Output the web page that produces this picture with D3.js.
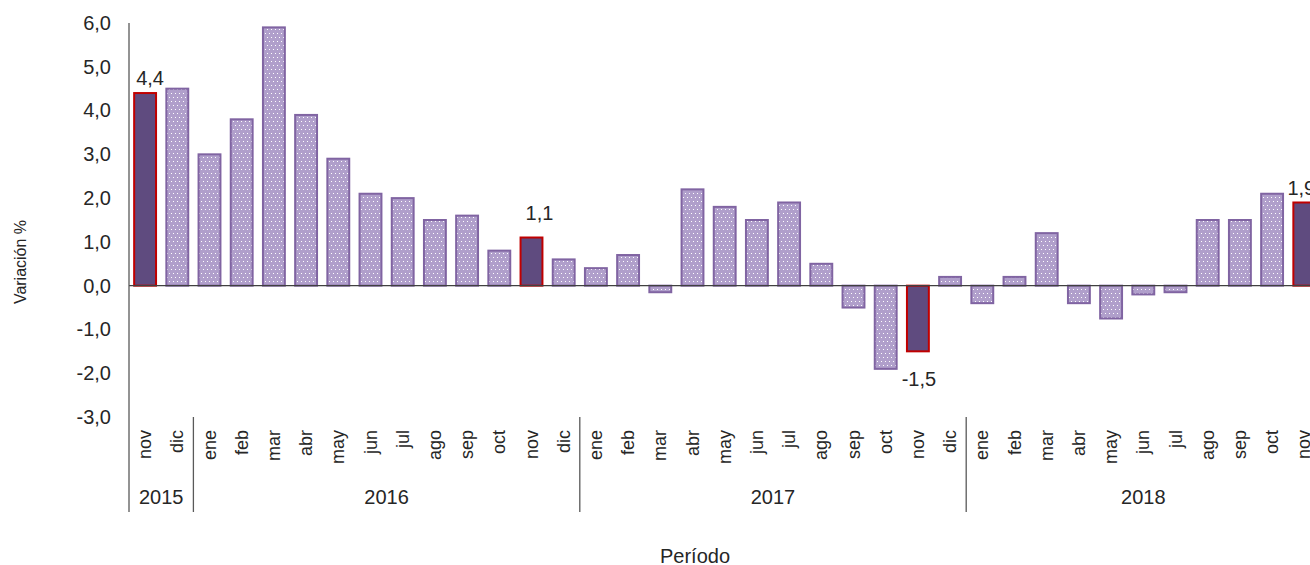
<!DOCTYPE html>
<html><head><meta charset="utf-8">
<script src="https://cdn.jsdelivr.net/npm/d3@7"></script>
<style>body{margin:0;background:#fff;overflow:hidden}svg{display:block}text{font-family:"Liberation Sans",Arial,sans-serif;fill:#262626}</style>
</head><body>
<svg id="c" width="1310" height="565"></svg>
<script>
const years = ["2015","2016","2017","2018"];
const months = [
  ["nov","dic"],
  ["ene","feb","mar","abr","may","jun","jul","ago","sep","oct","nov","dic"],
  ["ene","feb","mar","abr","may","jun","jul","ago","sep","oct","nov","dic"],
  ["ene","feb","mar","abr","may","jun","jul","ago","sep","oct","nov"]
];
const values = [
  4.4, 4.5,
  3.0, 3.8, 5.9, 3.9, 2.9, 2.1, 2.0, 1.5, 1.6, 0.8, 1.1, 0.6,
  0.4, 0.7, -0.15, 2.2, 1.8, 1.5, 1.9, 0.5, -0.5, -1.9, -1.5, 0.2,
  -0.4, 0.2, 1.2, -0.4, -0.75, -0.2, -0.15, 1.5, 1.5, 2.1, 1.9
];
const highlighted = ["2015-nov","2016-nov","2017-nov","2018-nov"];
const yTicks = [-3,-2,-1,0,1,2,3,4,5,6];

const cats = [];
years.forEach((y,i)=>months[i].forEach(m=>cats.push({key:y+"-"+m, year:y, month:m})));
cats.forEach((c,i)=>c.value=values[i]);

const svg = d3.select("#c");
const fmt = v => d3.format(".1f")(v).replace(".",",").replace("−","-");
const x0 = 129, step = 32.2;
const x = d3.scaleBand().domain(cats.map(c=>c.key)).range([x0, x0+step*cats.length]).paddingInner(0.32).paddingOuter(0.16);
const y = d3.scaleLinear().domain([-3,6]).range([417,23]);

const defs = svg.append("defs");
const pat = defs.append("pattern").attr("id","dots").attr("patternUnits","userSpaceOnUse").attr("width",8).attr("height",8);
pat.append("rect").attr("width",8).attr("height",8).attr("fill","#b09fcb");
[[1,1],[5,1],[3,5],[7,5]].forEach(p=>pat.append("rect").attr("x",p[0]).attr("y",p[1]).attr("width",1).attr("height",1).attr("fill","#ffffff"));

// y axis labels
const ya = svg.append("g").attr("transform",`translate(${x0},0)`)
  .call(d3.axisLeft(y).tickValues(yTicks).tickFormat(fmt).tickSize(0).tickPadding(18));
ya.select(".domain").remove();
ya.selectAll("text").style("font-size","20px").style("font-family","'Liberation Sans',Arial,sans-serif").attr("fill","#262626");

// bars
const isH = c => highlighted.includes(c.key);
svg.append("g").selectAll("rect").data(cats).join("rect")
  .attr("x",d=>x(d.key)).attr("width",x.bandwidth())
  .attr("y",d=>y(Math.max(0,d.value))).attr("height",d=>Math.abs(y(d.value)-y(0)))
  .attr("fill",d=>isH(d)?"#5f4b7f":"url(#dots)")
  .attr("stroke",d=>isH(d)?"#c00000":"#8064a2").attr("stroke-width",2);

// zero line and vertical axis
svg.append("line").attr("x1",x0).attr("x2",1310).attr("y1",y(0)).attr("y2",y(0)).attr("stroke","#404040").attr("stroke-width",1.3);
svg.append("line").attr("x1",x0).attr("x2",x0).attr("y1",y(6)).attr("y2",512).attr("stroke","#595959").attr("stroke-width",1.3);

// data labels
const labelOff = {"2015-nov":[5,-8],"2016-nov":[8,-18],"2017-nov":[1,35],"2018-nov":[-3,-7]};
svg.append("g").selectAll("text").data(cats.filter(isH)).join("text")
  .attr("x",d=>x(d.key)+x.bandwidth()/2+labelOff[d.key][0])
  .attr("y",d=>y(d.value)+labelOff[d.key][1])
  .attr("text-anchor","middle").style("font-size","20px").text(d=>fmt(d.value));

// month tick labels
svg.append("g").selectAll("text").data(cats).join("text")
  .attr("transform",d=>`translate(${x(d.key)+x.bandwidth()/2+6},430) rotate(-90)`)
  .attr("text-anchor","end").style("font-size","18px").text(d=>d.month);

// year separators & labels
let idx = 0;
years.forEach((yr,i)=>{
  const start = idx, end = idx + months[i].length; idx = end;
  const xs = x0 + step*start, xe = x0 + step*end;
  if(i>0) svg.append("line").attr("x1",xs).attr("x2",xs).attr("y1",417).attr("y2",512).attr("stroke","#595959").attr("stroke-width",1.3);
  svg.append("text").attr("x",(xs+xe)/2).attr("y",504).attr("text-anchor","middle").style("font-size","20px").text(yr);
});

// axis titles
svg.append("text").attr("transform","translate(26,262) rotate(-90)").attr("text-anchor","middle").style("font-size","16px").text("Variación %");
svg.append("text").attr("x",695).attr("y",563).attr("text-anchor","middle").style("font-size","20px").text("Período");
</script>
</body></html>
